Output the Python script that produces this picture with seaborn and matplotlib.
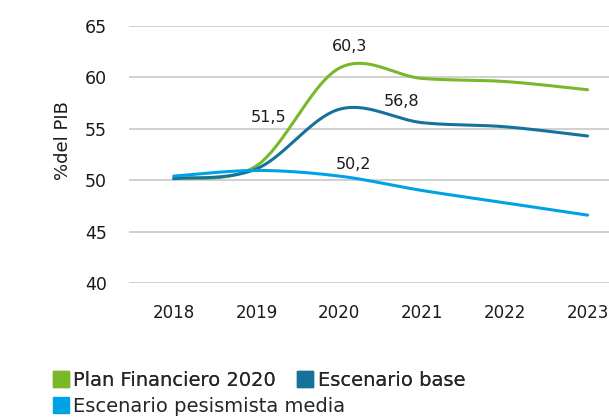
"""Deuda publica - escenarios (%del PIB)"""

import numpy as np
import pandas as pd
import matplotlib.pyplot as plt
from matplotlib.lines import Line2D
import seaborn as sns

years = [2018, 2019, 2020, 2021, 2022, 2023]
plan_financiero = [50.2, 51.4, 60.9, 59.9, 59.6, 58.8]
escenario_base = [50.15, 51.1, 56.9, 55.6, 55.2, 54.3]
escenario_pesimista = [50.4, 50.95, 50.4, 49.0, 47.8, 46.6]

series_names = ['Plan Financiero 2020', 'Escenario base', 'Escenario pesismista media']
series_colors = ['#78b82a', '#16729a', '#00a2e6']

# labels as printed on the chart
label_texts = ['51,5', '60,3', '56,8', '50,2']
label_x = [2019.15, 2020.13, 2020.75, 2020.17]
label_y = [56.1, 63.0, 57.7, 51.55]


def smooth(xs, ys, n=40):
    # excel-style smoothed line: bezier segments with 1/6 tangents
    xs = np.asarray(xs, float)
    ys = np.asarray(ys, float)
    px = np.concatenate([[xs[0]], xs, [xs[-1]]])
    py = np.concatenate([[ys[0]], ys, [ys[-1]]])
    out_x, out_y = [], []
    t = np.linspace(0, 1, n)
    for i in range(len(xs) - 1):
        x0, y0 = xs[i], ys[i]
        x3, y3 = xs[i + 1], ys[i + 1]
        x1 = x0 + (px[i + 2] - px[i]) / 6
        y1 = y0 + (py[i + 2] - py[i]) / 6
        x2 = x3 - (px[i + 3] - px[i + 1]) / 6
        y2 = y3 - (py[i + 3] - py[i + 1]) / 6
        bx = (1 - t) ** 3 * x0 + 3 * (1 - t) ** 2 * t * x1 + 3 * (1 - t) * t ** 2 * x2 + t ** 3 * x3
        by = (1 - t) ** 3 * y0 + 3 * (1 - t) ** 2 * t * y1 + 3 * (1 - t) * t ** 2 * y2 + t ** 3 * y3
        if i > 0:
            bx, by = bx[1:], by[1:]
        out_x.extend(bx)
        out_y.extend(by)
    return out_x, out_y


frames = []
for name, vals in zip(series_names, [plan_financiero, escenario_base, escenario_pesimista]):
    sx, sy = smooth(years, vals)
    frames.append(pd.DataFrame({'year': sx, 'value': sy, 'serie': name}))
df = pd.concat(frames, ignore_index=True)

sns.set_style('white')
plt.rcParams['font.family'] = ['DejaVu Sans']

fig = plt.figure(figsize=(6.09, 4.17), dpi=100)
ax = fig.add_axes([129 / 609, 1 - 283 / 417, 500 / 609, 257 / 417])

sns.lineplot(data=df, x='year', y='value', hue='serie', palette=series_colors,
             hue_order=series_names, estimator=None, sort=False,
             linewidth=2.2, legend=False, ax=ax)

ax.set_xlim(2017.46, 2023.5)
ax.set_ylim(40, 65)
ax.set_yticks([40, 45, 50, 55, 60, 65])
ax.set_xticks(years)
ax.set_xticklabels([str(y) for y in years])
ax.grid(axis='y', color='#c4c4c4', linewidth=1.1)
ax.grid(axis='x', visible=False)
for s in ax.spines.values():
    s.set_visible(False)
ax.tick_params(axis='y', length=0, pad=16, labelsize=12.5, labelcolor='#1a1a1a')
ax.tick_params(axis='x', length=0, pad=15, labelsize=12, labelcolor='#1a1a1a')
ax.set_xlabel('')
ax.set_ylabel('%del PIB', fontsize=13, color='#1a1a1a')
ax.yaxis.set_label_coords(-0.115, 0.556)

for txt, x, y in zip(label_texts, label_x, label_y):
    ax.text(x, y, txt, ha='center', va='center', fontsize=11.5, color='#1a1a1a')

handles = [Line2D([], [], marker='s', linestyle='', color=c, markersize=11.5)
           for c in series_colors]
leg1 = fig.legend(handles[:2], series_names[:2], ncol=2, loc='center left',
                  bbox_to_anchor=(43 / 609, 1 - 380 / 417), frameon=False,
                  fontsize=14, borderpad=0, handlelength=0.8, handletextpad=0.25,
                  columnspacing=1.1)
leg2 = fig.legend(handles[2:], series_names[2:], loc='center left',
                  bbox_to_anchor=(43 / 609, 1 - 406 / 417), frameon=False,
                  fontsize=14, borderpad=0, handlelength=0.8, handletextpad=0.25)
fig.add_artist(leg1)

fig.savefig('out.png', dpi=100)
